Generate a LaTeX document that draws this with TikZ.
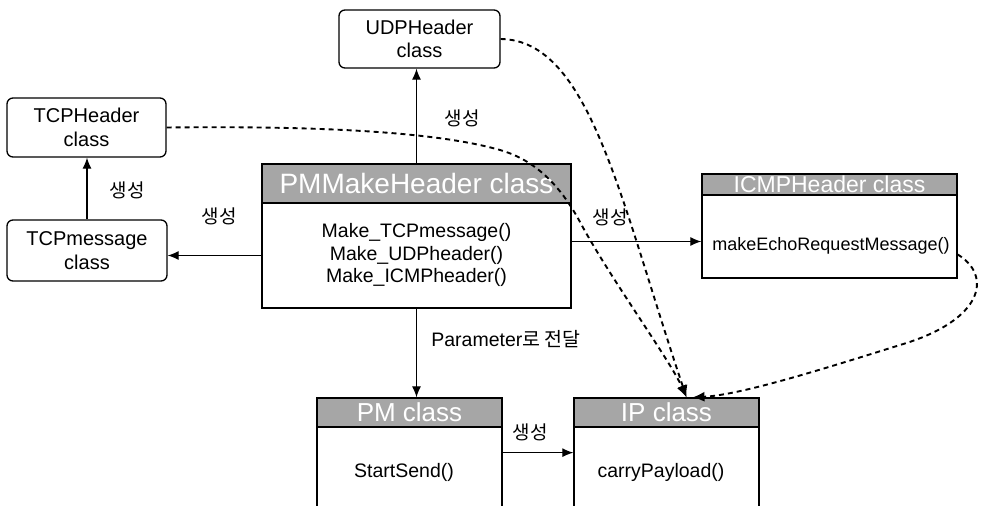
\documentclass[tikz,border=0pt]{standalone}
\usepackage{fontspec}
\setmainfont{Liberation Sans}
\newfontfamily\kr{Noto Sans CJK KR}
\usetikzlibrary{arrows.meta,calc}
\begin{document}
\begin{tikzpicture}[x=1pt,y=-1pt,
  roundbox/.style={draw, rounded corners=6pt, line width=1.3pt, align=center,
    inner sep=0pt, font=\fontsize{20}{23.5}\selectfont},
  classhead/.style={draw, fill=black!35, text=white, line width=1.3pt,
    inner sep=0pt, font=\fontsize{26}{28}\selectfont},
  classbody/.style={draw, line width=1.3pt, inner sep=0pt},
  method/.style={align=center, inner sep=0pt, font=\fontsize{19.5}{22.5}\selectfont},
  rel/.style={-{Latex[length=11pt,width=9pt]}, line width=1.2pt},
  dep/.style={-{Latex[length=12pt,width=10pt]}, line width=1.9pt,
    dash pattern=on 5pt off 4pt},
  lbl/.style={inner sep=0pt, font=\kr\fontsize{19}{21}\selectfont}]
\clip (0,0) rectangle (986,506);

% simple classes
\node[roundbox, minimum width=161pt, minimum height=58pt] (udp) at (419.5,39) {UDPHeader\\class};
\node[roundbox, minimum width=159pt, minimum height=59pt] (tcph) at (86.5,127.5) {TCPHeader\\class};
\node[roundbox, minimum width=160pt, minimum height=61pt] (tcpm) at (87,250.5) {TCPmessage\\class};

% PMMakeHeader
\node[classhead, minimum width=309pt, minimum height=39pt, font=\fontsize{28}{30}\selectfont] (pmh) at (416.5,183.5) {PMMakeHeader class};
\node[classbody, minimum width=309pt, minimum height=105pt] (pmb) at (416.5,255.5) {};
\node[method] (pmtext) at (416.5,255) {Make\_TCPmessage()\\Make\_UDPheader()\\Make\_ICMPheader()};

% ICMPHeader
\node[classhead, minimum width=255pt, minimum height=21pt, font=\fontsize{23}{24}\selectfont] (ich) at (829.5,184.5) {ICMPHeader class};
\node[classbody, minimum width=255pt, minimum height=83pt] (icb) at (829.5,236.5) {};
\node[method, font=\fontsize{18}{21}\selectfont] (ictext) at (831,246) {makeEchoRequestMessage()};

% PM
\node[classhead, minimum width=185pt, minimum height=29pt] (pmh2) at (409.5,412.5) {PM class};
\node[classbody, minimum width=185pt, minimum height=103pt] (pmb2) at (409.5,478.5) {};
\node[method] (pmtext2) at (404,472) {StartSend()};

% IP
\node[classhead, minimum width=185pt, minimum height=29pt] (iph) at (666.5,412.5) {IP class};
\node[classbody, minimum width=185pt, minimum height=103pt] (ipb) at (666.5,478.5) {};
\node[method] (iptext) at (661,472) {carryPayload()};

% labels
\node[lbl] (l1) at (462,118) {생성};
\node[lbl] (l2) at (127,190) {생성};
\node[lbl] (l3) at (219,216) {생성};
\node[lbl] (l4) at (610,217) {생성};
\node[lbl] (l5) at (530,432) {생성};
\node[inner sep=0pt, font=\fontsize{19.5}{21}\selectfont] (l6) at (506,339) {Parameter{\kr 로 전달}};

% creation arrows
\draw[rel] (pmh.north) -- (pmh.north |- udp.south);
\draw[rel] (tcpm.north) -- (tcpm.north |- tcph.south);
\draw[rel] (pmb.west) -- (pmb.west -| tcpm.east);
\coordinate (icin) at ([yshift=-5pt]icb.west);
\draw[rel] (icin -| pmb.east) -- (icin);
\draw[rel] (pmb.south) -- (pmb.south |- pmh2.north);
\coordinate (pmout) at ([yshift=-25pt]pmh2.south east);
\draw[rel] (pmout) -- (pmout -| iph.west);

% dependencies towards IP class
\coordinate (ipin) at ([xshift=20pt]iph.north);
\coordinate (ipin2) at ([xshift=26pt]iph.north);
\coordinate (icout) at ([yshift=-18pt]icb.east);
\draw[dep] (udp.east) .. controls (590,40) and (620,200) .. (ipin);
\draw[dep] (tcph.east) .. controls (300,126) and (430,130) .. (500,150)
  .. controls (535,160) and (560,185) .. (580,222)
  .. controls (610,278) and (670,360) .. (ipin);
\draw[dep] (icout) .. controls (992,275) and (985,320) .. (900,345)
  .. controls (820,370) and (740,395) .. (ipin2);
\end{tikzpicture}
\end{document}
